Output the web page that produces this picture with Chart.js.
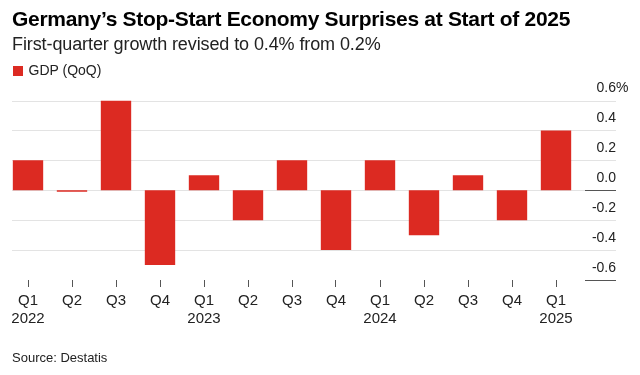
<!DOCTYPE html>
<html>
<head>
<meta charset="utf-8">
<script src="https://cdn.jsdelivr.net/npm/chart.js@4"></script>
<style>
  html, body { margin:0; padding:0; background:#fff; }
  body { width:640px; height:375px; position:relative; overflow:hidden; font-family:"Liberation Sans", Arial, sans-serif; color:#000; }
  #wrap { position:absolute; left:0; top:0; width:640px; height:375px; }
  .t { position:absolute; left:12px; white-space:nowrap; }
  #title { top:8px; font-size:21px; line-height:21px; font-weight:bold; letter-spacing:-0.3px; }
  #subtitle { top:34.8px; font-size:18px; line-height:18px; color:#222; letter-spacing:-0.1px; }
  #legend { top:63px; left:12.5px; font-size:14px; line-height:14px; color:#222; }
  #legend i { display:inline-block; width:10px; height:10px; background:#dc2a22; margin-right:6px; vertical-align:-1px; }
  #source { top:350.5px; font-size:13px; line-height:13px; color:#222; }
</style>
</head>
<body>
<div id="wrap"><canvas id="c" width="640" height="375"></canvas></div>
<div class="t" id="title">Germany’s Stop-Start Economy Surprises at Start of 2025</div>
<div class="t" id="subtitle">First-quarter growth revised to 0.4% from 0.2%</div>
<div class="t" id="legend"><i></i>GDP (QoQ)</div>
<div class="t" id="source">Source: Destatis</div>
<script>
const quarters = ['Q1','Q2','Q3','Q4','Q1','Q2','Q3','Q4','Q1','Q2','Q3','Q4','Q1'];
const years    = ['2022','','','','2023','','','','2024','','','','2025'];
const gdpQoQ   = [0.2, -0.01, 0.6, -0.5, 0.1, -0.2, 0.2, -0.4, 0.2, -0.3, 0.1, -0.2, 0.4];
const yTicks   = [-0.6, -0.4, -0.2, 0, 0.2, 0.4, 0.6];

const labels = quarters.map((q, i) => [q, years[i]]);

const gridPlugin = {
  id: 'bbgGrid',
  beforeDatasetsDraw(chart) {
    const ctx = chart.ctx, y = chart.scales.y;
    ctx.save();
    ctx.lineWidth = 1;
    yTicks.forEach(v => {
      const py = Math.round(y.getPixelForValue(v)) + 0.5;
      if (v !== yTicks[0]) {
        ctx.strokeStyle = '#e3e3e3';
        ctx.beginPath(); ctx.moveTo(12, py); ctx.lineTo(v === 0 ? 585 : 616, py); ctx.stroke();
      }
      if (v === 0 || v === yTicks[0]) {
        ctx.strokeStyle = '#555';
        ctx.beginPath(); ctx.moveTo(585, py); ctx.lineTo(616, py); ctx.stroke();
      }
    });
    ctx.restore();
  },
  afterDraw(chart) {
    const ctx = chart.ctx, y = chart.scales.y;
    const top = yTicks[yTicks.length - 1];
    ctx.save();
    ctx.font = '14px "Liberation Sans", Arial, sans-serif';
    ctx.fillStyle = '#222';
    ctx.textAlign = 'left';
    ctx.textBaseline = 'middle';
    ctx.fillText('%', 616, y.getPixelForValue(top) - 12);
    ctx.restore();
  }
};

new Chart(document.getElementById('c'), {
  type: 'bar',
  data: {
    labels,
    datasets: [{
      label: 'GDP (QoQ)',
      data: gdpQoQ,
      backgroundColor: '#dc2a22',
      borderWidth: 0,
      barPercentage: 0.69,
      categoryPercentage: 1.0
    }]
  },
  options: {
    responsive: false,
    animation: false,
    devicePixelRatio: 1,
    layout: { padding: { left: 6, right: 24, top: 100.5, bottom: 45 } },
    plugins: { legend: { display: false }, tooltip: { enabled: false }, title: { display: false } },
    scales: {
      x: {
        offset: true,
        grid: { display: true, offset: false, drawOnChartArea: false, drawTicks: true, tickLength: 7, color: '#555', lineWidth: 1 },
        border: { display: false },
        ticks: { color: '#222', font: { size: 15, family: '"Liberation Sans", Arial, sans-serif', lineHeight: 1.18 }, padding: 5, maxRotation: 0, autoSkip: false },
        afterFit(s) { s.height = 50; }
      },
      y: {
        position: 'right',
        min: -0.6, max: 0.6,
        afterBuildTicks(s) { s.ticks = yTicks.map(v => ({ value: v })); },
        grid: { display: false },
        border: { display: false },
        ticks: {
          color: '#222',
          font: { size: 14, family: '"Liberation Sans", Arial, sans-serif' },
          crossAlign: 'far',
          labelOffset: -12,
          padding: 0,
          callback: v => v.toFixed(1)
        },
        afterFit(s) { s.width = 38; }
      }
    }
  },
  plugins: [gridPlugin]
});
</script>
</body>
</html>
